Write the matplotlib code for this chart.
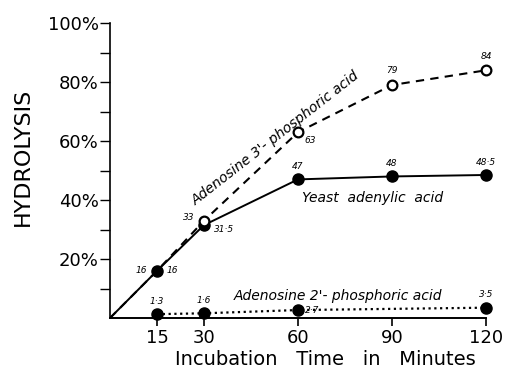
import matplotlib
matplotlib.use('Agg')
import matplotlib.pyplot as plt

# 数据
times_3p = [0, 15, 30, 60, 90, 120]
hydro_3p = [0, 16, 33, 63, 79, 84]          # Adenosine 3'-phosphoric acid
times_yeast = [0, 15, 30, 60, 90, 120]
hydro_yeast = [0, 16, 31.5, 47, 48, 48.5]   # Yeast adenylic acid
times_2p = [15, 30, 60, 120]
hydro_2p = [1.3, 1.6, 2.7, 3.5]             # Adenosine 2'-phosphoric acid

x_ticks = [15, 30, 60, 90, 120]
y_major = [20, 40, 60, 80, 100]
y_minor = [10, 30, 50, 70, 90]
y_labels = ['20%', '40%', '60%', '80%', '100%']

labels_3p = ['16', '33', '63', '79', '84']
labels_yeast = ['16', '31·5', '47', '48', '48·5']
labels_2p = ['1·3', '1·6', '2·7', '3·5']


def initPlt():
    plt.rcParams['font.family'] = ['DejaVu Sans']
    plt.rcParams['figure.dpi'] = 100


initPlt()
fig = plt.figure(figsize=(5.06, 3.85))
ax = fig.add_axes([0.2174, 0.174, 0.743, 0.766])

# 曲线
ax.plot(times_yeast, hydro_yeast, color='black', lw=1.4, zorder=2)
ax.plot(times_yeast[1:], hydro_yeast[1:], 'o', color='black', ms=8, zorder=4, clip_on=False)
ax.plot(times_3p, hydro_3p, color='black', lw=1.5, ls=(0, (4, 3)), zorder=2)
ax.plot(times_3p[2:], hydro_3p[2:], 'o', mfc='white', mec='black', mew=1.6, ms=7, zorder=5, clip_on=False)
ax.plot(times_2p, hydro_2p, color='black', lw=1.6, ls=(0, (1, 1.6)), zorder=2)
ax.plot(times_2p, hydro_2p, 'o', color='black', ms=8, zorder=4, clip_on=False)

# 数值标注
num_kw = dict(textcoords='offset points', fontsize=6.5, style='italic')
offs_3p = [(-7, 0, 'right', 'center'), (-7, 2, 'right', 'center'), (5, -6, 'left', 'center'),
           (0, 7, 'center', 'bottom'), (0, 7, 'center', 'bottom')]
for (x, y, t, o) in zip(times_3p[1:], hydro_3p[1:], labels_3p, offs_3p):
    ax.annotate(t, (x, y), xytext=o[:2], ha=o[2], va=o[3], **num_kw)
offs_yeast = [(7, 0, 'left', 'center'), (7, -3, 'left', 'center'), (0, 6, 'center', 'bottom'),
              (0, 6, 'center', 'bottom'), (0, 6, 'center', 'bottom')]
for (x, y, t, o) in zip(times_yeast[1:], hydro_yeast[1:], labels_yeast, offs_yeast):
    ax.annotate(t, (x, y), xytext=o[:2], ha=o[2], va=o[3], **num_kw)
offs_2p = [(0, 6, 'center', 'bottom'), (0, 6, 'center', 'bottom'), (5, 0, 'left', 'center'),
           (0, 6, 'center', 'bottom')]
for (x, y, t, o) in zip(times_2p, hydro_2p, labels_2p, offs_2p):
    ax.annotate(t, (x, y), xytext=o[:2], ha=o[2], va=o[3], **num_kw)

# 曲线名称
ax.text(52.7, 61, "Adenosine 3'- phosphoric acid", rotation=38, rotation_mode='anchor',
        ha='center', va='center', fontsize=10, style='italic')
ax.text(83.7, 40.7, 'Yeast  adenylic  acid', ha='center', va='center', fontsize=10, style='italic')
ax.text(72.8, 7.5, "Adenosine 2'- phosphoric acid", ha='center', va='center', fontsize=10, style='italic')

# 坐标轴
ax.set_xlim(0, 120)
ax.set_ylim(0, 100)
ax.spines['top'].set_visible(False)
ax.spines['right'].set_visible(False)
ax.spines['left'].set_linewidth(1.2)
ax.spines['bottom'].set_linewidth(1.4)
ax.set_xticks(x_ticks)
ax.set_xticklabels([str(t) for t in x_ticks], fontsize=13)
ax.set_yticks(y_major)
ax.set_yticklabels(y_labels, fontsize=13)
ax.set_yticks(y_minor, minor=True)
ax.tick_params(axis='x', length=6, width=1.2, pad=2)
ax.tick_params(axis='y', which='both', length=7, width=1.0, pad=1)

fig.text(0.045, 0.592, 'HYDROLYSIS', rotation=90, ha='center', va='center', fontsize=16)
fig.text(0.644, 0.066, 'Incubation   Time   in   Minutes', ha='center', va='center', fontsize=14)

plt.savefig('out.png', dpi=100)
